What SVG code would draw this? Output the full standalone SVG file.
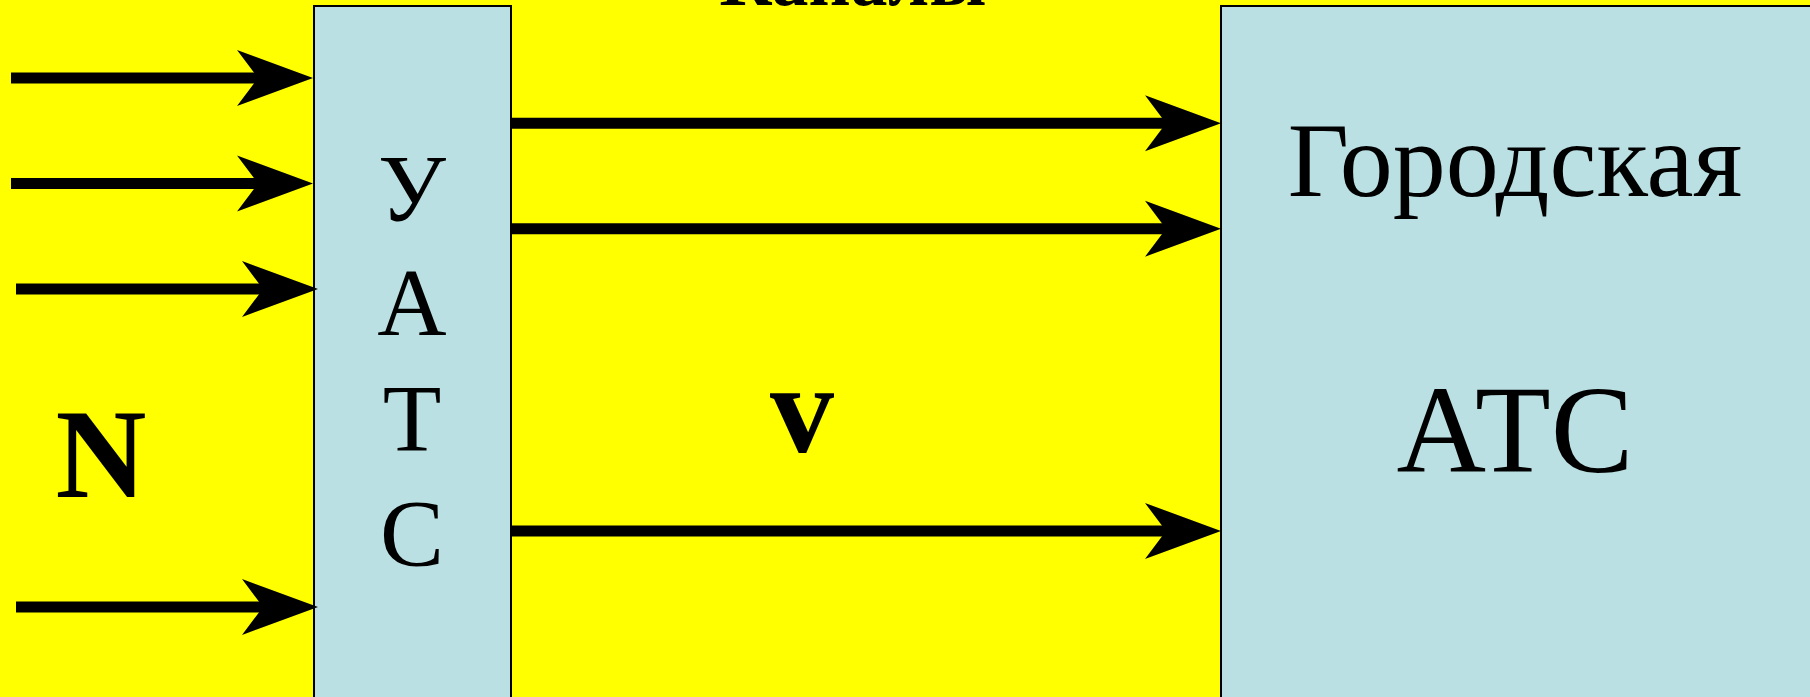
<svg xmlns="http://www.w3.org/2000/svg" width="1810" height="697" viewBox="0 0 1810 697">
<defs>
<marker id="ah" markerUnits="userSpaceOnUse" viewBox="-21 -28 76 56" refX="0" refY="0" markerWidth="76" markerHeight="56" orient="auto" overflow="visible">
<path d="M55,0 L-21,-28 L0,0 L-21,28 Z" fill="#000"/>
</marker>
</defs>
<style>
.box{fill:#BBE0E3;stroke:#000;stroke-width:2}
.t{font-family:"Liberation Serif","Times New Roman",serif;fill:#000;text-anchor:middle}
.c{stroke:#000;stroke-width:11;fill:none;marker-end:url(#ah)}
</style>
<rect x="0" y="0" width="1810" height="697" fill="#FFFF00"/>
<text class="t" x="853" y="5" font-size="76" font-weight="bold" textLength="267" lengthAdjust="spacingAndGlyphs">Каналы</text>
<g id="uats">
<rect class="box" x="314" y="6" width="197" height="692"/>
<text class="t" x="412" y="221" font-size="96">У</text>
<text class="t" x="412" y="335" font-size="96">А</text>
<text class="t" x="412" y="451" font-size="96">Т</text>
<text class="t" x="412" y="566" font-size="96">С</text>
</g>
<g id="city-ats">
<rect class="box" x="1221" y="6" width="600" height="692"/>
<text class="t" x="1515" y="196" font-size="106">Городская</text>
<text class="t" x="1515" y="472" font-size="124">АТС</text>
</g>
<g id="label-n">
<text class="t" x="101" y="497" font-size="126" font-weight="bold">N</text>
</g>
<g id="label-v">
<text class="t" x="802" y="452" font-size="128" font-weight="bold">v</text>
</g>
<g id="connectors">
<line class="c" x1="11" y1="78" x2="258" y2="78"/>
<line class="c" x1="11" y1="183.5" x2="258" y2="183.5"/>
<line class="c" x1="16" y1="289" x2="263" y2="289"/>
<line class="c" x1="16" y1="607" x2="263" y2="607"/>
<line class="c" x1="511" y1="123.3" x2="1166" y2="123.3"/>
<line class="c" x1="511" y1="228.7" x2="1166" y2="228.7"/>
<line class="c" x1="511" y1="531" x2="1166" y2="531"/>
</g>
</svg>
